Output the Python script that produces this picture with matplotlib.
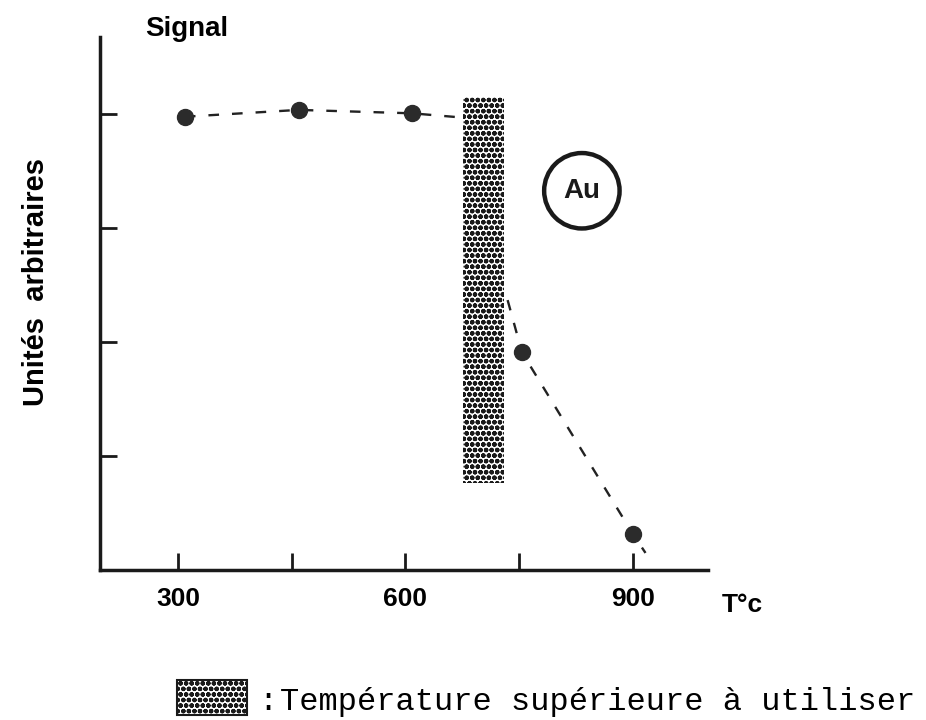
import matplotlib.pyplot as plt
from matplotlib.patches import Rectangle

plt.rcParams['font.family'] = ['Liberation Sans', 'DejaVu Sans']
plt.rcParams['hatch.linewidth'] = 1.6

# Data
temp_points = [309, 459, 609, 754, 900]
signal_points = [3.98, 4.04, 4.01, 1.91, 0.32]

# dashed guide lines (plateau, then drop)
plateau_t = [309, 459, 609, 680]
plateau_s = [3.98, 4.04, 4.01, 3.97]
drop_t = [735, 754, 900, 917]
drop_s = [2.37, 1.91, 0.32, 0.15]

# "temperature limit" band
band_t = [676, 730]
band_s = [0.76, 4.15]

x_ticks = [300, 450, 600, 750, 900]
x_labels = ["300", "", "600", "", "900"]
y_ticks = [1, 2, 3, 4]

fig = plt.figure(figsize=(9.26, 7.2), dpi=100)
ax = fig.add_axes([0.108, 0.2083, 0.657, 0.7403])

ax.plot(plateau_t, plateau_s, color='#222222', linewidth=1.7, dashes=(4.5, 5.5), zorder=2)
ax.plot(drop_t, drop_s, color='#222222', linewidth=1.7, dashes=(4.5, 5.5), zorder=2)
ax.plot(temp_points, signal_points, 'o', color='#2b2b2b', markersize=11.5, zorder=4)

ax.add_patch(Rectangle((band_t[0], band_s[0]), band_t[1] - band_t[0], band_s[1] - band_s[0],
                       facecolor='white', edgecolor='#1a1a1a', hatch='ooo', linewidth=0, zorder=3))

# "Au" circle label
ax.scatter([833], [3.33], s=2950, facecolors='none', edgecolors='#1a1a1a', linewidths=3.2, zorder=5)
ax.text(833, 3.33, "Au", fontsize=20, fontweight='bold', ha='center', va='center', color='#1a1a1a')

ax.set_xlim(197, 1000)
ax.set_ylim(0, 4.68)
ax.set_xticks(x_ticks)
ax.set_xticklabels(x_labels, fontsize=19, fontweight='bold')
ax.set_yticks(y_ticks)
ax.set_yticklabels([])
ax.tick_params(direction='in', length=12, width=2, color='#1a1a1a', pad=12)

for side in ['top', 'right']:
    ax.spines[side].set_visible(False)
for side in ['left', 'bottom']:
    ax.spines[side].set_linewidth(2.5)
    ax.spines[side].set_color('#1a1a1a')

fig.text(145 / 926, 1 - 36 / 720, "Signal", fontsize=20, fontweight='bold', ha='left', va='baseline')
fig.text(0.039, 0.608, "Unités  arbitraires", fontsize=21, fontweight='bold',
         rotation=90, ha='center', va='center')
fig.text(722 / 926, 1 - 605 / 720, "T°c", fontsize=19, fontweight='bold', ha='left', va='center')

# legend swatch at the bottom
fig.patches.append(Rectangle((177 / 926, 1 - 715 / 720), 70 / 926, 35 / 720, transform=fig.transFigure,
                             facecolor='white', edgecolor='#1a1a1a', hatch='ooo', linewidth=1.5))
mono = ['Liberation Mono', 'DejaVu Sans Mono']
fig.text(258 / 926, 1 - 710 / 720, ":", fontsize=23, family=mono, ha='left', va='baseline')
fig.text(280 / 926, 1 - 710 / 720, "Température supérieure à utiliser", fontsize=23,
         family=mono, ha='left', va='baseline')

plt.savefig("out.png", dpi=100)
